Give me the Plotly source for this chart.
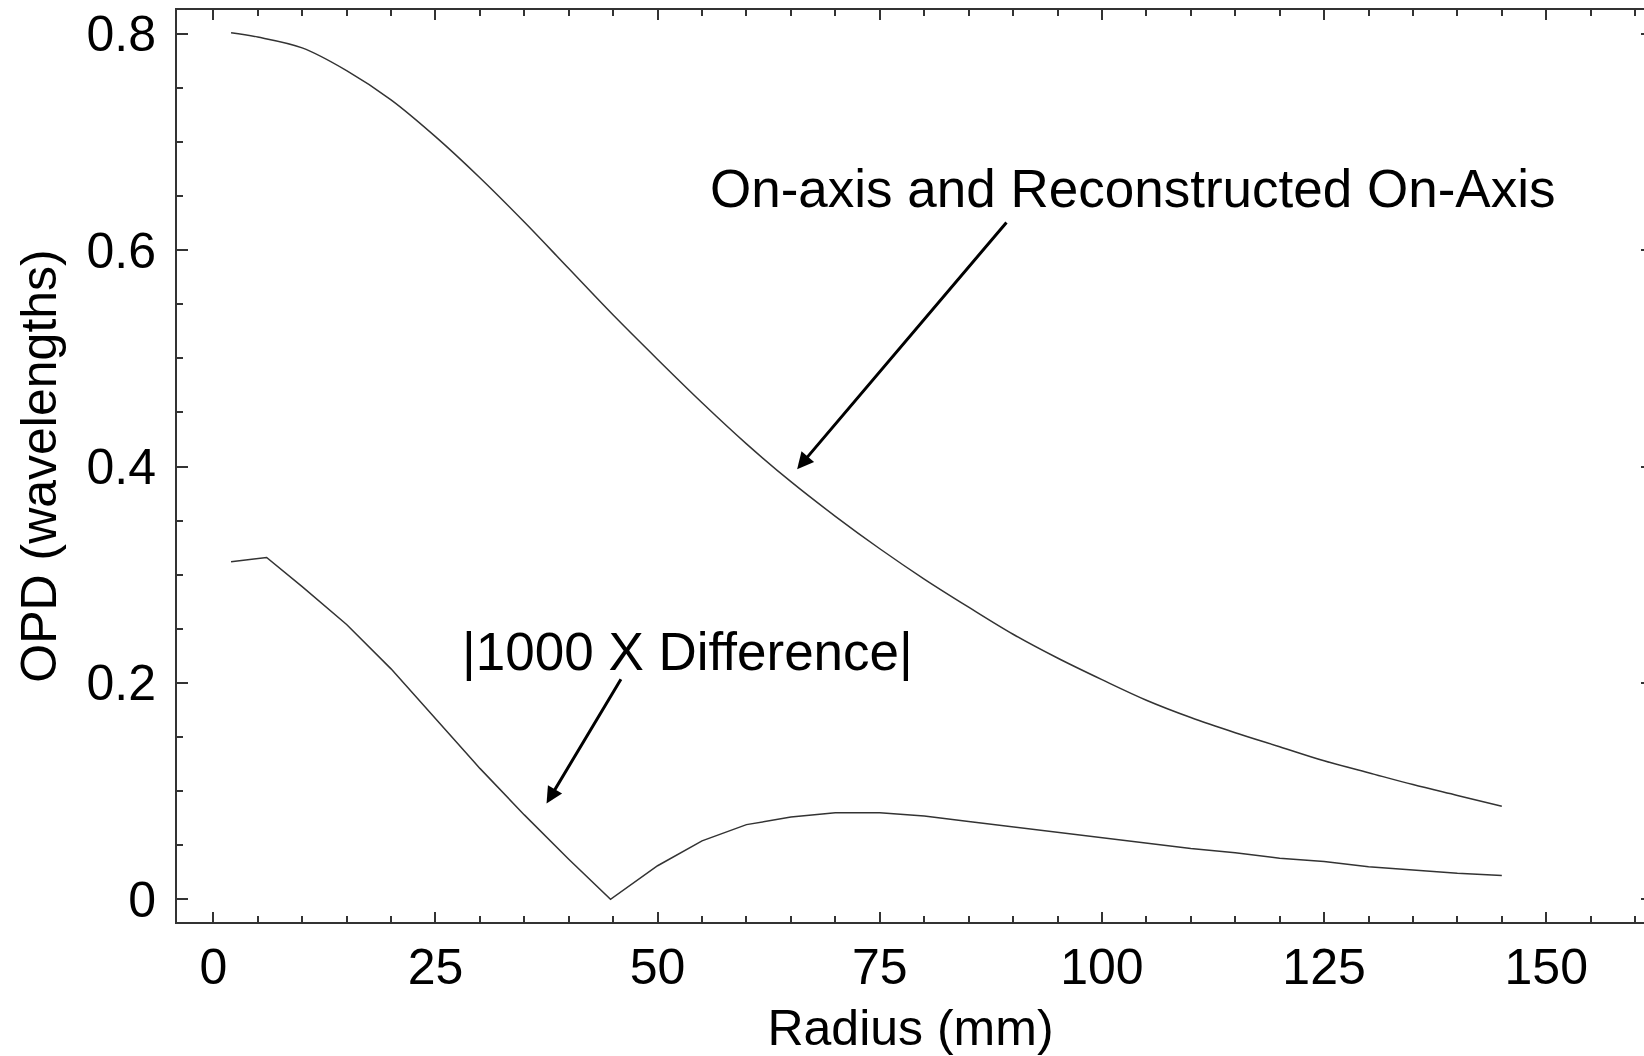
import plotly.graph_objects as go

# ---- data ----
radius_on_axis = [2, 5, 10, 15, 20, 25, 30, 35, 40, 45, 50, 55, 60, 65, 70, 75,
                  80, 85, 90, 95, 100, 105, 110, 115, 120, 125, 130, 135, 140, 145]
opd_on_axis = [0.801, 0.797, 0.787, 0.766, 0.739, 0.705, 0.667, 0.626, 0.583, 0.540,
               0.499, 0.459, 0.421, 0.386, 0.354, 0.324, 0.296, 0.270, 0.245, 0.223,
               0.203, 0.184, 0.168, 0.154, 0.141, 0.128, 0.117, 0.106, 0.096, 0.086]

radius_diff = [2, 6, 10, 15, 20, 25, 30, 35, 40, 44.7, 50, 55, 60, 65, 70, 75,
               80, 85, 90, 95, 100, 105, 110, 115, 120, 125, 130, 135, 140, 145]
opd_diff = [0.312, 0.316, 0.289, 0.254, 0.213, 0.167, 0.121, 0.078, 0.037, 0.000,
            0.031, 0.054, 0.069, 0.076, 0.080, 0.080, 0.077, 0.072, 0.067, 0.062,
            0.057, 0.052, 0.047, 0.043, 0.038, 0.035, 0.030, 0.027, 0.024, 0.022]

x_tick_vals = [0, 25, 50, 75, 100, 125, 150]
y_tick_vals = [0, 0.2, 0.4, 0.6, 0.8]
y_tick_text = ["0", "0.2", "0.4", "0.6", "0.8"]

label_on_axis = "On-axis and Reconstructed On-Axis"
label_diff = "|1000 X Difference|"
x_title = "Radius (mm)"
y_title = "OPD (wavelengths)"

FONT = "Liberation Sans, Arial, sans-serif"
AX = "#333333"
LINE = "#333333"

fig = go.Figure()
fig.add_trace(go.Scatter(x=radius_on_axis, y=opd_on_axis, mode="lines",
                         line=dict(color=LINE, width=1.5, shape="spline", smoothing=1.0),
                         showlegend=False, hoverinfo="skip"))
fig.add_trace(go.Scatter(x=radius_diff, y=opd_diff, mode="lines", yaxis="y2",
                         line=dict(color=LINE, width=1.5), showlegend=False,
                         hoverinfo="skip"))

y_range = [-0.021, 0.822]

fig.update_layout(
    width=1644, height=1056,
    margin=dict(l=177, r=0, t=10, b=134, pad=0),
    paper_bgcolor="white", plot_bgcolor="white",
    font=dict(family=FONT, color="black"),
    xaxis=dict(
        range=[-4.085, 161.0], tickvals=x_tick_vals,
        ticks="inside", ticklen=10, tickwidth=1.5, tickcolor=AX,
        minor=dict(dtick=5, tick0=0, ticks="inside", ticklen=6, tickwidth=1.5, tickcolor=AX),
        showline=True, linewidth=2, linecolor=AX, mirror="ticks",
        showgrid=False, zeroline=False,
        tickfont=dict(size=50, family=FONT, color="black"),
        ticklabelstandoff=0,
        title=dict(text=x_title, font=dict(size=50, family=FONT, color="black"), standoff=22),
    ),
    yaxis=dict(
        range=y_range, tickvals=y_tick_vals, ticktext=y_tick_text,
        ticks="inside", ticklen=11, tickwidth=1.5, tickcolor=AX,
        minor=dict(dtick=0.05, tick0=0, ticks="inside", ticklen=6, tickwidth=1.5, tickcolor=AX),
        showline=True, linewidth=2, linecolor=AX, mirror=False,
        showgrid=False, zeroline=False,
        tickfont=dict(size=50, family=FONT, color="black"),
        ticklabelstandoff=9,
        title=dict(text=y_title, font=dict(size=50, family=FONT, color="black"), standoff=14),
    ),
    yaxis2=dict(
        range=y_range, overlaying="y", side="right", anchor="x",
        tickvals=y_tick_vals, showticklabels=False,
        ticks="inside", ticklen=3, tickwidth=1.5, tickcolor=AX,
        showline=False, showgrid=False, zeroline=False,
    ),
)

# text labels
fig.add_annotation(x=103.4, y=0.657, xref="x", yref="y", text=label_on_axis,
                   showarrow=False, xanchor="center", yanchor="middle",
                   font=dict(size=53, family=FONT, color="black"))
fig.add_annotation(x=53.4, y=0.229, xref="x", yref="y", text=label_diff,
                   showarrow=False, xanchor="center", yanchor="middle",
                   font=dict(size=53, family=FONT, color="black"))

# arrows
fig.add_annotation(x=65.7, y=0.3976, ax=89.4, ay=0.627, xref="x", yref="y",
                   axref="x", ayref="y", text="", showarrow=True,
                   arrowhead=2, arrowsize=1.1, arrowwidth=3, arrowcolor="black")
fig.add_annotation(x=37.5, y=0.0885, ax=45.97, ay=0.2048, xref="x", yref="y",
                   axref="x", ayref="y", text="", showarrow=True,
                   arrowhead=2, arrowsize=1.1, arrowwidth=3, arrowcolor="black")

fig.write_html("out.html")
